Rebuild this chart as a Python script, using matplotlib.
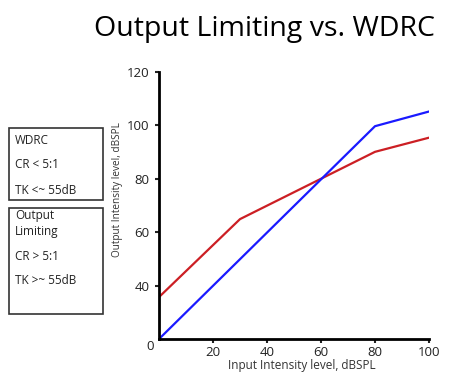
import matplotlib
matplotlib.use("Agg")
import matplotlib.pyplot as plt
import matplotlib.transforms as mtransforms
from matplotlib.patches import Rectangle

plt.rcParams['font.family'] = ['Open Sans', 'DejaVu Sans']

# Data
wdrc_x = [0, 30, 80, 100]
wdrc_y = [35.7, 64.9, 90.1, 95.4]
lim_x = [0, 80, 100]
lim_y = [20, 99.7, 105.2]
x_ticks = [20, 40, 60, 80, 100]
y_ticks = [20, 40, 60, 80, 100, 120]
y_ticklabels = ['0', '40', '60', '80', '100', '120']

W, H = 474, 376
fig = plt.figure(figsize=(W/100, H/100), dpi=100)
L, R, T, B = 159, 429, 72, 339
ax = fig.add_axes([L/W, 1-B/H, (R-L)/W, (B-T)/H])

ax.plot(wdrc_x, wdrc_y, color='#cc1f24', lw=1.6)
ax.plot(lim_x, lim_y, color='#1a1aff', lw=1.6)

ax.set_xlim(0, 100)
ax.set_ylim(20, 120)
ax.set_xticks(x_ticks)
ax.set_yticks(y_ticks)
ax.set_yticklabels(y_ticklabels)
for s in ['top', 'right']:
    ax.spines[s].set_visible(False)
for s in ['left', 'bottom']:
    ax.spines[s].set_linewidth(2)
    ax.spines[s].set_color('black')
ax.tick_params(axis='both', direction='out', length=3, width=1.5, labelsize=9.5, colors='#222222', pad=2)
ax.tick_params(axis='y', pad=4)
ax.yaxis.get_major_ticks()[0].tick1line.set_visible(False)
# shift the origin "0" label down like the reference
lbl0 = ax.yaxis.get_major_ticks()[0].label1
lbl0.set_transform(lbl0.get_transform() + mtransforms.ScaledTranslation(5/100, -6/100, fig.dpi_scale_trans))

ax.set_xlabel('Input Intensity level, dBSPL', fontsize=8.5, color='#333333')
ax.set_ylabel('Output Intensity level, dBSPL', fontsize=7.2, color='#333333')
ax.xaxis.set_label_coords((302-L)/(R-L), -(359-B)/(B-T))
ax.yaxis.set_label_coords(-(L-123)/(R-L), (B-190)/(B-T))

fig.text(265/W, 1-29/H, 'Output Limiting vs. WDRC', fontsize=20.5, ha='center', va='center', color='black')

# Boxes
fig.patches.append(Rectangle((9/W, 1-200/H), 94/W, 72/H, transform=fig.transFigure,
                             fill=False, edgecolor='#333333', lw=1.2))
fig.patches.append(Rectangle((9/W, 1-314/H), 94/W, 106/H, transform=fig.transFigure,
                             fill=False, edgecolor='#333333', lw=1.2))
for txt, y in [('WDRC', 141), ('CR < 5:1', 165), ('TK <~ 55dB', 190),
               ('Output', 215), ('Limiting', 231), ('CR > 5:1', 256), ('TK >~ 55dB', 281)]:
    fig.text(15/W, 1-y/H, txt, fontsize=8.5, ha='left', va='center', color='#222222')

fig.savefig('out.png', dpi=100)
